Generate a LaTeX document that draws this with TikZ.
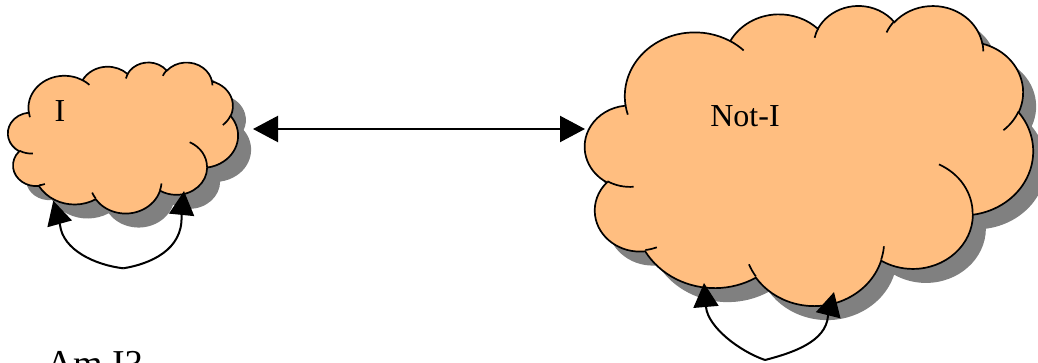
\documentclass[tikz,border=0pt]{standalone}
\usepackage{fontspec}
\setmainfont{Liberation Serif}
\usetikzlibrary{arrows.meta}
\definecolor{cloudfill}{RGB}{255,190,128}
\definecolor{shadowgray}{RGB}{128,128,128}
% arc given as in DrawingML arcTo: radii, visual start angle, visual sweep
\newcommand\cldarc[4]{arc[x radius=#1,y radius=#2,start angle={atan2((#1)*sin(#3),(#2)*cos(#3))},delta angle={mod(atan2((#1)*sin((#3)+(#4)),(#2)*cos((#3)+(#4)))-atan2((#1)*sin(#3),(#2)*cos(#3))+720,360)}]}
\newcommand\cloudoutline{(39.00,143.70)
 \cldarc{67.53}{91.90}{-190.4875}{123.7805}
 \cldarc{53.33}{72.67}{-144.1024}{89.9452}
 \cldarc{43.65}{59.45}{-145.8079}{99.7230}
 \cldarc{48.57}{65.95}{-130.9861}{117.2417}
 \cldarc{53.33}{72.73}{-78.7089}{109.0269}
 \cldarc{67.75}{92.20}{-46.2673}{130.2690}
 \cldarc{57.85}{78.67}{0.6250}{114.0333}
 \cldarc{67.52}{92.15}{22.4516}{115.1726}
 \cldarc{77.20}{105.43}{66.2426}{75.7110}
 \cldarc{43.60}{59.18}{-274.9421}{146.7356}
 \cldarc{43.45}{59.45}{-246.8285}{152.5189} -- cycle}
\newcommand\cloudmarks{
 (46.93,261.77) \cldarc{43.45}{59.45}{86.742}{26.430}
 (69.28,348.99) \cldarc{43.60}{59.18}{73.610}{11.447}
 (164.78,390.90) \cldarc{67.52}{92.15}{137.624}{14.081}
 (288.27,347.51) \cldarc{67.52}{92.15}{6.453}{15.998}
 (341.29,229.54) \cldarc{57.85}{78.67}{-70.292}{70.917}
 (417.98,153.54) \cldarc{53.33}{72.73}{30.318}{27.752}
 (383.24,54.26) \cldarc{48.57}{65.95}{-13.744}{14.859}
 (290.78,39.52) \cldarc{48.57}{65.95}{-149.181}{18.195}
 (221.41,47.20) \cldarc{43.65}{59.45}{-163.494}{17.686}
 (140.00,51.92) \cldarc{67.53}{91.90}{-66.707}{12.319}
 (41.27,157.89) \cldarc{67.53}{91.90}{157.654}{11.858}}
\newcommand\drawcloud[4]{%
 \begin{scope}[shift={(#1+13pt,#2-14pt)},x=#3,y=-#4]
  \fill[shadowgray] \cloudoutline;
 \end{scope}
 \begin{scope}[shift={(#1,#2)},x=#3,y=-#4]
  \filldraw[cloudedge] \cloudoutline;
  \draw[markline] \cloudmarks;
 \end{scope}}
\tikzset{
 cloudedge/.style={fill=cloudfill,draw=black,line width=1.7pt},
 markline/.style={draw=black,line width=1.7pt},
 bigtip/.style={line width=2.2pt,{Triangle[length=25pt,width=26pt]}-{Triangle[length=25pt,width=26pt]}},
 looptip/.style={line width=2pt,-{Triangle[length=24pt,width=25pt]}},
 label/.style={inner sep=0pt,font=\fontsize{32}{38}\selectfont}
}
\begin{document}
\begin{tikzpicture}
\useasboundingbox (0pt,0pt) rectangle (1038pt,362pt);
\drawcloud{8pt}{300pt}{0.53241pt}{0.34954pt}
\drawcloud{585pt}{357pt}{1.03704pt}{0.69444pt}
\node[label] (ilabel) at (60pt,251pt) {I};
\node[label] (notilabel) at (745pt,246pt) {Not-I};
\node[inner sep=0pt,anchor=base west,font=\fontsize{38}{44}\selectfont] (ami) at (46pt,-14pt) {Am I?};
\coordinate (iE) at (253pt,233pt);
\coordinate (nW) at (585pt,233pt);
\draw[bigtip] (iE) -- (nW);
% loop under the small cloud
\coordinate (b1) at (123.3pt,93.7pt);
\coordinate (s1) at (60pt,137pt);
\coordinate (t1) at (53.3pt,161.3pt);
\coordinate (s2) at (181.5pt,146pt);
\coordinate (t2) at (184pt,171pt);
\draw[looptip] (b1) .. controls (95pt,97pt) and (63pt,112pt) .. (s1) -- (t1);
\draw[looptip] (b1) .. controls (150pt,98pt) and (183pt,112pt) .. (s2) -- (t2);
% loop under the large cloud
\coordinate (b2) at (765pt,2pt);
\coordinate (s3) at (706pt,55pt);
\coordinate (t3) at (704pt,79pt);
\coordinate (s4) at (828pt,46pt);
\coordinate (t4) at (834pt,70pt);
\draw[looptip] (b2) .. controls (739pt,11pt) and (708pt,35pt) .. (s3) -- (t3);
\draw[looptip] (b2) .. controls (792pt,9pt) and (826pt,20pt) .. (s4) -- (t4);
\end{tikzpicture}
\end{document}
